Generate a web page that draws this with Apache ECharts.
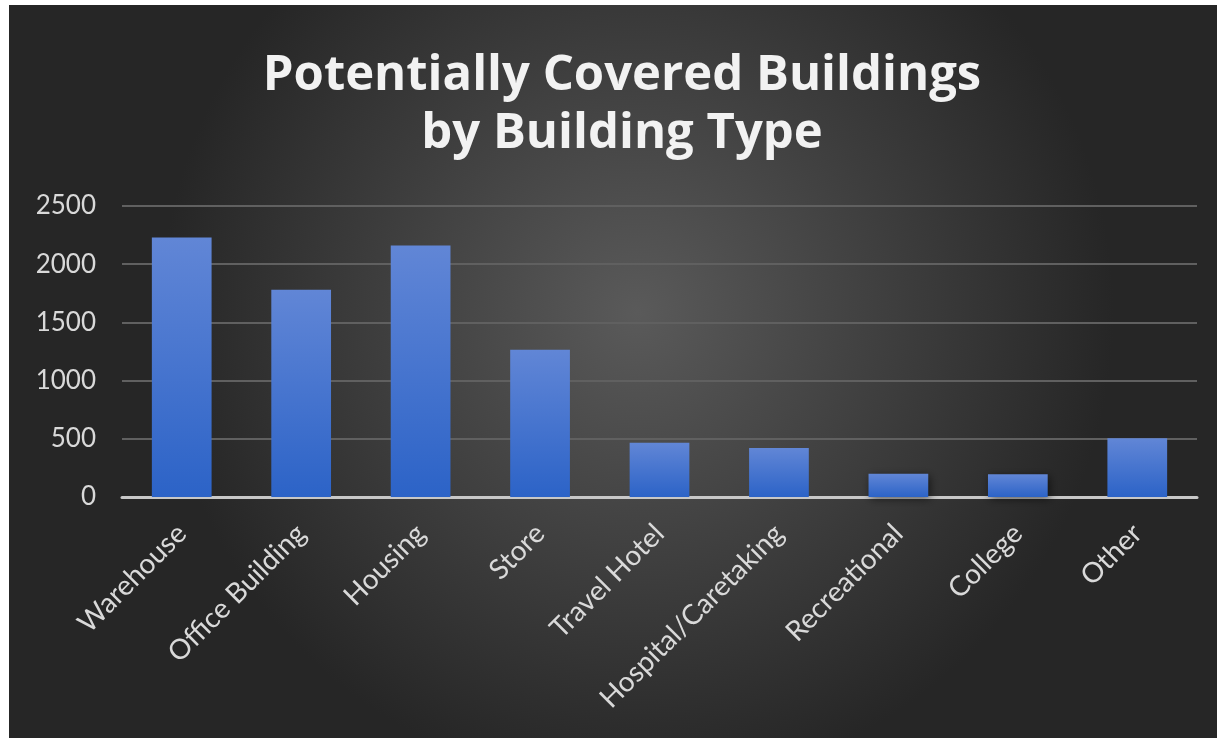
<!DOCTYPE html>
<html lang="en">

<head>
    <meta charset="UTF-8">
    <title>Potentially Covered Buildings</title>
    <style>
        * {
            padding: 0;
            margin: 0;
            box-sizing: border-box;
        }

        html,
        body {
            width: 100%;
            height: 100%;
            background: #fff;
            overflow: hidden;
        }

        .chart-container {
            position: absolute;
            left: 9px;
            top: 5px;
            width: 1208px;
            height: 733px;
        }
    </style>
</head>

<body>
    <div id="chart-container" class="chart-container"></div>
</body>

</html>
<script src="https://cdn.jsdelivr.net/npm/echarts@6/dist/echarts.min.js"></script>

<script>
    // 分类
    const buildingTypes = ['Warehouse', 'Office Building', 'Housing', 'Store', 'Travel Hotel',
        'Hospital/Caretaking', 'Recreational', 'College', 'Other']

    // 数量
    const buildingCounts = [2230, 1780, 2160, 1265, 465, 420, 200, 195, 505]

    // y轴刻度
    const yTicks = [0, 500, 1000, 1500, 2000, 2500]

    const titleText = 'Potentially Covered Buildings\nby Building Type'

    var myChart = echarts.init(document.getElementById('chart-container'))

    var option = {
        backgroundColor: {
            type: 'radial',
            x: 0.52,
            y: 0.42,
            r: 0.65,
            colorStops: [
                { offset: 0, color: '#5a5a5a' },
                { offset: 1, color: '#262626' }
            ]
        },
        graphic: [{
            type: 'text',
            x: 613,
            y: 100,
            style: {
                text: titleText,
                fill: '#f2f2f2',
                font: 'bold 49px "Open Sans"',
                lineHeight: 58,
                textAlign: 'center',
                textVerticalAlign: 'middle',
                shadowColor: 'rgba(0,0,0,0.7)',
                shadowBlur: 4,
                shadowOffsetX: 2,
                shadowOffsetY: 2
            }
        }],
        grid: {
            left: 113,
            right: 20,
            top: 201,
            bottom: 241
        },
        xAxis: {
            type: 'category',
            data: buildingTypes,
            axisLine: {
                lineStyle: { color: '#c8c8c8', width: 3 }
            },
            axisTick: { show: false },
            axisLabel: {
                rotate: 45,
                margin: 32,
                color: '#d9d9d9',
                fontSize: 28,
                fontFamily: 'Lato'
            }
        },
        yAxis: {
            type: 'value',
            min: yTicks[0],
            max: yTicks[yTicks.length - 1],
            interval: 500,
            axisLine: { show: false },
            axisTick: { show: false },
            axisLabel: {
                margin: 26,
                color: '#d9d9d9',
                fontSize: 26,
                fontFamily: 'Lato',
                formatter: function (v) {
                    return String(v)
                }
            },
            splitLine: {
                lineStyle: { color: '#606060', width: 2 }
            }
        },
        series: [{
            type: 'bar',
            data: buildingCounts,
            barCategoryGap: '50%',
            itemStyle: {
                color: {
                    type: 'linear',
                    x: 0, y: 0, x2: 0, y2: 1,
                    colorStops: [
                        { offset: 0, color: '#6186d6' },
                        { offset: 1, color: '#2c63c7' }
                    ]
                },
                shadowColor: 'rgba(0,0,0,0.55)',
                shadowBlur: 8,
                shadowOffsetX: 2,
                shadowOffsetY: 2
            }
        }]
    }
    myChart.setOption(option)
</script>
